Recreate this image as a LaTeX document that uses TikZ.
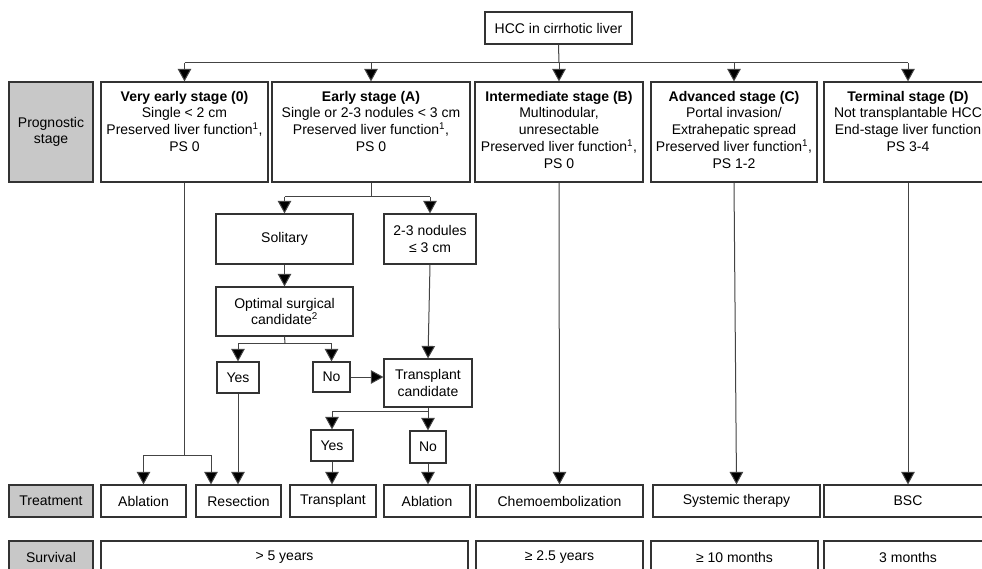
\documentclass[tikz,border=0pt]{standalone}
\usepackage{fontspec}
\setmainfont{Liberation Sans}
\usetikzlibrary{arrows.meta}
\definecolor{greyfill}{HTML}{C8C8C8}
\definecolor{edgecol}{HTML}{333333}
\definecolor{linecol}{HTML}{444444}
\newcommand\stagetext[2]{\parbox[c][100pt][t]{#1}{\centering\rule{0pt}{19.3pt}#2}}
\tikzset{
  box/.style={draw=edgecol, line width=1.2pt, fill=white, inner sep=0pt, align=center, text=black},
  greybox/.style={box, fill=greyfill},
  conn/.style={draw=linecol, line width=1pt},
  arr/.style={conn, -{Triangle[length=12.5pt,width=13.5pt,fill=black]}},
}
\begin{document}
\begin{tikzpicture}[x=1pt, y=-1pt, font=\fontsize{14pt}{16.7pt}\selectfont]
\useasboundingbox (0,0) rectangle (982,569);
\clip (0,0) rectangle (982,569);
\fill[white] (0,0) rectangle (982,569);

% top
\node[box, minimum width=147pt, minimum height=32pt] (hcc) at (558.5,28) {HCC in cirrhotic liver};

% stage row
\node[greybox, minimum width=84pt, minimum height=100pt] (prog) at (51,132) {Prognostic\\stage};
\node[box, minimum width=167pt, minimum height=100pt] (s0) at (184.5,132)
  {\stagetext{167pt}{\textbf{Very early stage (0)}\\Single < 2 cm\\Preserved liver function\textsuperscript{1},\\PS 0}};
\node[box, minimum width=198pt, minimum height=100pt] (sA) at (371,132)
  {\stagetext{198pt}{\textbf{Early stage (A)}\\Single or 2-3 nodules < 3 cm\\Preserved liver function\textsuperscript{1},\\PS 0}};
\node[box, minimum width=168pt, minimum height=100pt] (sB) at (559,132)
  {\stagetext{168pt}{\textbf{Intermediate stage (B)}\\Multinodular,\\unresectable\\Preserved liver function\textsuperscript{1},\\PS 0}};
\node[box, minimum width=166pt, minimum height=100pt] (sC) at (734,132)
  {\stagetext{166pt}{\textbf{Advanced stage (C)}\\Portal invasion/\\Extrahepatic spread\\Preserved liver function\textsuperscript{1},\\PS 1-2}};
\node[box, minimum width=168pt, minimum height=100pt] (sD) at (908,132)
  {\stagetext{168pt}{\textbf{Terminal stage (D)}\\Not transplantable HCC\\End-stage liver function\\PS 3-4}};

% early stage subtree
\node[box, minimum width=137pt, minimum height=50pt] (sol) at (284.5,239) {Solitary};
\node[box, minimum width=92pt, minimum height=50pt] (n23) at (430,239) {2-3 nodules\\≤ 3 cm};
\node[box, minimum width=137pt, minimum height=49pt] (opt) at (284.5,311.5) {Optimal surgical\\candidate\textsuperscript{2}};
\node[box, minimum width=42pt, minimum height=31pt] (yes1) at (238,377.5) {Yes};
\node[box, minimum width=37pt, minimum height=30pt] (no1) at (331.5,377) {No};
\node[box, minimum width=88pt, minimum height=48pt] (tc) at (428,383) {Transplant\\candidate};
\node[box, minimum width=42pt, minimum height=31pt] (yes2) at (332,445.5) {Yes};
\node[box, minimum width=36pt, minimum height=32pt] (no2) at (428,447) {No};

% treatment row
\node[greybox, minimum width=84pt, minimum height=32pt] (treat) at (51,501) {Treatment};
\node[box, minimum width=85pt, minimum height=32pt] (abl1) at (143.5,501) {Ablation};
\node[box, minimum width=85pt, minimum height=32pt] (res) at (238.5,501) {Resection};
\node[box, minimum width=86pt, minimum height=32pt] (tr) at (333,501) {Transplant};
\node[box, minimum width=86pt, minimum height=32pt] (abl2) at (427,501) {Ablation};
\node[box, minimum width=167pt, minimum height=32pt] (chemo) at (559.5,501) {Chemoembolization};
\node[box, minimum width=167pt, minimum height=32pt] (sys) at (736.5,501) {Systemic therapy};
\node[box, minimum width=168pt, minimum height=32pt] (bsc) at (908,501) {BSC};

% survival row
\node[greybox, minimum width=84pt, minimum height=32pt] (surv) at (51,557) {Survival};
\node[box, minimum width=367pt, minimum height=32pt] (y5) at (284.5,557) {> 5 years};
\node[box, minimum width=167pt, minimum height=32pt] (y25) at (559.5,557) {≥ 2.5 years};
\node[box, minimum width=167pt, minimum height=32pt] (m10) at (734.5,557) {≥ 10 months};
\node[box, minimum width=168pt, minimum height=32pt] (m3) at (908,557) {3 months};

% connectors: top
\coordinate (hb) at (559,63);
\draw[conn] (hcc.south) -- (hb);
\draw[conn] (s0.north |- hb) -- (sD.north |- hb);
\foreach \n in {s0,sA,sB,sC,sD} \draw[arr] (\n.north |- hb) -- (\n.north);

% early stage branches
\coordinate (ab) at (371,197);
\draw[conn] (sA.south) -- (ab);
\draw[conn] (sol.north |- ab) -- (n23.north |- ab);
\draw[arr] (sol.north |- ab) -- (sol.north);
\draw[arr] (n23.north |- ab) -- (n23.north);
\draw[arr] (sol.south) -- (opt.north);
\coordinate (ob) at (285,343);
\draw[conn] (opt.south) -- (ob);
\draw[conn] (yes1.north |- ob) -- (no1.north |- ob);
\draw[arr] (yes1.north |- ob) -- (yes1.north);
\draw[arr] (no1.north |- ob) -- (no1.north);
\draw[arr] (no1.east) -- (no1.east -| tc.west);
\draw[arr] (n23.south) -- (tc.north);
\coordinate (tb) at (428,411);
\draw[conn] (tc.south) -- (tb);
\draw[conn] (yes2.north |- tb) -- (tb);
\draw[arr] (yes2.north |- tb) -- (yes2.north);
\draw[arr] (tb) -- (no2.north);
\draw[arr] (yes2.south) -- (yes2.south |- tr.north);
\draw[arr] (no2.south) -- (no2.south |- abl2.north);
\draw[arr] (yes1.south) -- (yes1.south |- res.north);

% very early stage
\coordinate (vb) at (184.5,455);
\coordinate (vr) at (211,455);
\draw[conn] (s0.south) -- (vb);
\draw[conn] (abl1.north |- vb) -- (vr);
\draw[arr] (abl1.north |- vb) -- (abl1.north);
\draw[arr] (vr) -- (vr |- res.north);

% other stages
\draw[arr] (sB.south) -- (chemo.north);
\draw[arr] (sC.south) -- (sys.north);
\draw[arr] (sD.south) -- (bsc.north);
\end{tikzpicture}
\end{document}
